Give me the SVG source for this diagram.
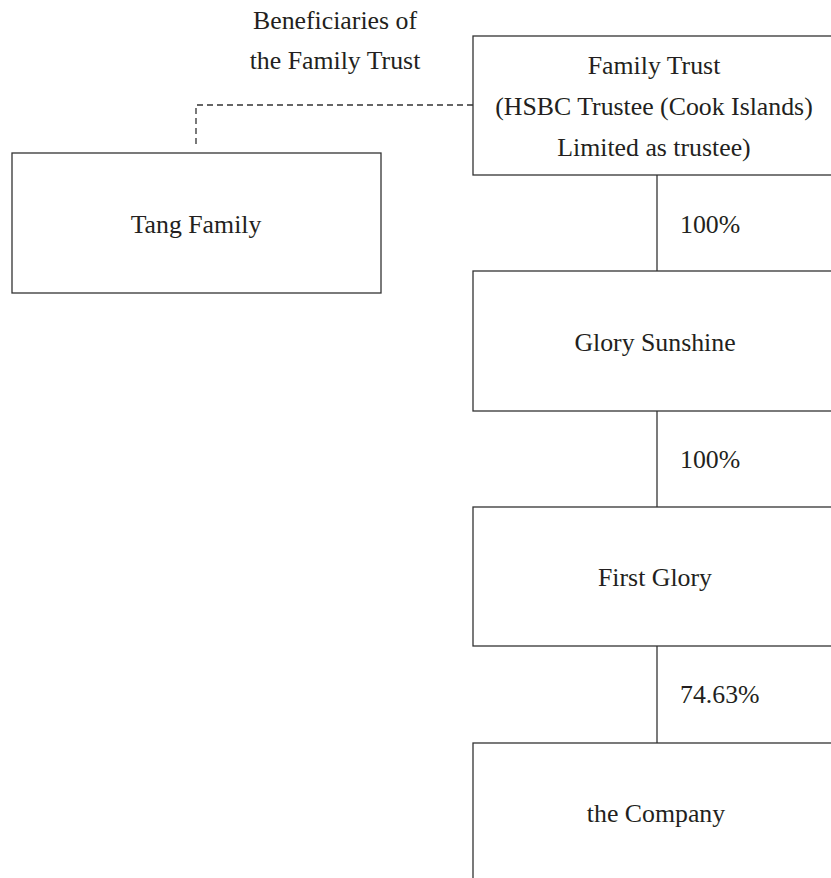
<svg xmlns="http://www.w3.org/2000/svg" width="831" height="878" viewBox="0 0 831 878">
<style>
.box{fill:#fff;stroke:#333;stroke-width:1.3}
.t{font-family:"Liberation Serif",serif;font-size:25.8px;fill:#231f20;text-anchor:middle}
.l{font-family:"Liberation Serif",serif;font-size:25.8px;fill:#231f20}
.c{stroke:#333;stroke-width:1.3;fill:none}
.d{stroke:#333;stroke-width:1.3;fill:none;stroke-dasharray:6,4}
</style>
<rect width="831" height="878" fill="#fff"/>
<g id="connectors">
<path class="d" d="M473,105 H196 V148"/>
<line class="c" x1="657" y1="175" x2="657" y2="271"/>
<line class="c" x1="657" y1="411" x2="657" y2="507"/>
<line class="c" x1="657" y1="646" x2="657" y2="743"/>
<text class="l" x="680" y="233">100%</text>
<text class="l" x="680" y="468">100%</text>
<text class="l" x="680" y="703">74.63%</text>
</g>
<g id="beneficiaries-label">
<text class="t" x="335" y="29">Beneficiaries of</text>
<text class="t" x="335" y="69">the Family Trust</text>
</g>
<g id="family-trust">
<rect class="box" x="473" y="36" width="370" height="139"/>
<text class="t" x="654" y="74">Family Trust</text>
<text class="t" x="654" y="115">(HSBC Trustee (Cook Islands)</text>
<text class="t" x="654" y="156">Limited as trustee)</text>
</g>
<g id="tang-family">
<rect class="box" x="12" y="153" width="369" height="140"/>
<text class="t" x="196" y="233">Tang Family</text>
</g>
<g id="glory-sunshine">
<rect class="box" x="473" y="271" width="370" height="140"/>
<text class="t" x="655" y="351">Glory Sunshine</text>
</g>
<g id="first-glory">
<rect class="box" x="473" y="507" width="370" height="139"/>
<text class="t" x="655" y="586">First Glory</text>
</g>
<g id="the-company">
<rect class="box" x="473" y="743" width="370" height="150"/>
<text class="t" x="656" y="822">the Company</text>
</g>
</svg>
